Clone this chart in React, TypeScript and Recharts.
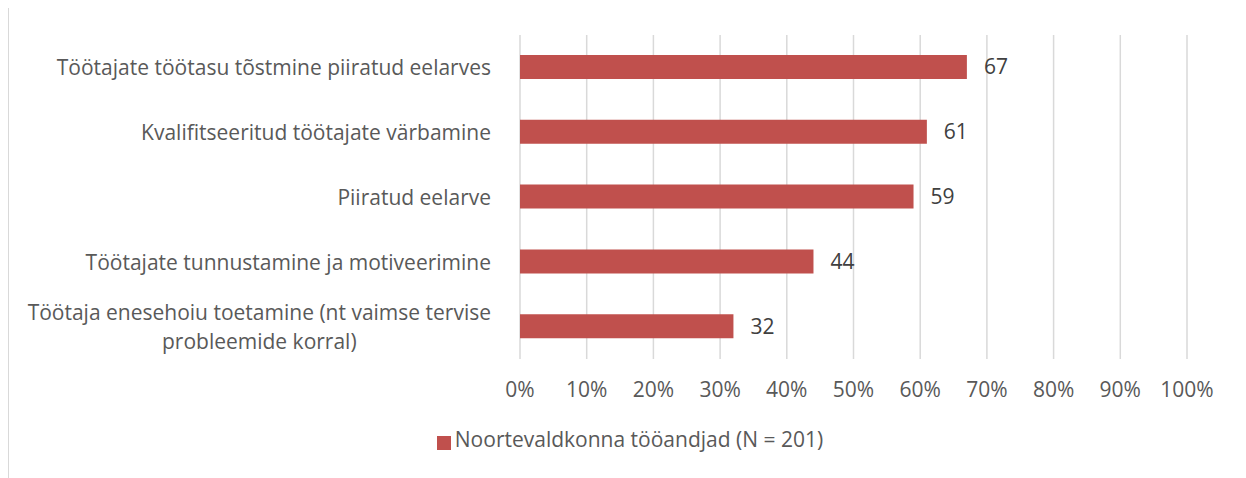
import { Bar, BarChart, CartesianGrid, LabelList, Legend, XAxis, YAxis } from 'recharts';

const categories = [
  'Töötajate töötasu tõstmine piiratud eelarves',
  'Kvalifitseeritud töötajate värbamine',
  'Piiratud eelarve',
  'Töötajate tunnustamine ja motiveerimine',
  'Töötaja enesehoiu toetamine (nt vaimse tervise probleemide korral)',
];
const values = [67, 61, 59, 44, 32];
const xTicks = [0, 10, 20, 30, 40, 50, 60, 70, 80, 90, 100];
const seriesName = 'Noortevaldkonna tööandjad (N = 201)';

const data = categories.map((name, i) => ({ name, value: values[i] }));

const FONT = '"Open Sans", sans-serif';
const FS = 21;
const TEXT = '#595959';

let ctx: CanvasRenderingContext2D | null = null;
const measure = (s: string) => {
  if (!ctx) ctx = document.createElement('canvas').getContext('2d');
  if (!ctx) return s.length * 10;
  ctx.font = `${FS}px ${FONT}`;
  return ctx.measureText(s).width;
};

// wrap long category names like excel does
const wrap = (s: string, max = 46) => {
  if (s.length <= max) return [s];
  const cut = s.lastIndexOf(' ', max);
  return [s.slice(0, cut), s.slice(cut + 1)];
};

const CategoryTick = ({ x, y, payload }: any) => {
  const lines = wrap(payload.value);
  const w = Math.max(...lines.map(measure));
  const lh = 29;
  const y0 = y - ((lines.length - 1) * lh) / 2;
  return (
    <g>
      {lines.map((l, i) => (
        <text
          key={i}
          x={x - w / 2}
          y={y0 + i * lh}
          textAnchor="middle"
          dominantBaseline="central"
          fill={TEXT}
          fontSize={FS}
          fontFamily={FONT}
        >
          {l}
        </text>
      ))}
    </g>
  );
};

export default function App() {
  return (
    <div style={{ width: 1235, height: 475, border: '1px solid #d9d9d9', marginTop: -1 }}>
      <BarChart
        width={1235}
        height={475}
        data={data}
        layout="vertical"
        margin={{ top: 27, right: 57, left: 0, bottom: 0 }}
        barSize={24}
      >
        <CartesianGrid horizontal={false} stroke="#d9d9d9" strokeWidth={1.5} />
        <XAxis
          type="number"
          domain={[0, 100]}
          ticks={xTicks}
          tickFormatter={(v) => `${v}%`}
          axisLine={false}
          tickLine={false}
          tickSize={0}
          tickMargin={23}
          height={69}
          interval={0}
          tick={{ fill: TEXT, fontSize: FS, fontFamily: FONT }}
        />
        <YAxis
          type="category"
          dataKey="name"
          width={511}
          axisLine={false}
          tickLine={false}
          tickSize={0}
          tickMargin={29}
          interval={0}
          tick={<CategoryTick />}
        />
        <Legend
          verticalAlign="bottom"
          align="center"
          iconType="square"
          iconSize={14}
          height={55}
          wrapperStyle={{ left: 37, bottom: 3 }}
          formatter={(v) => (
            <span style={{ color: TEXT, fontSize: FS, fontFamily: FONT }}>{v}</span>
          )}
        />
        <Bar dataKey="value" name={seriesName} fill="#c0504d" isAnimationActive={false}>
          <LabelList
            dataKey="value"
            position="right"
            offset={17}
            fill="#404040"
            fontSize={FS}
            fontFamily={FONT}
          />
        </Bar>
      </BarChart>
    </div>
  );
}
